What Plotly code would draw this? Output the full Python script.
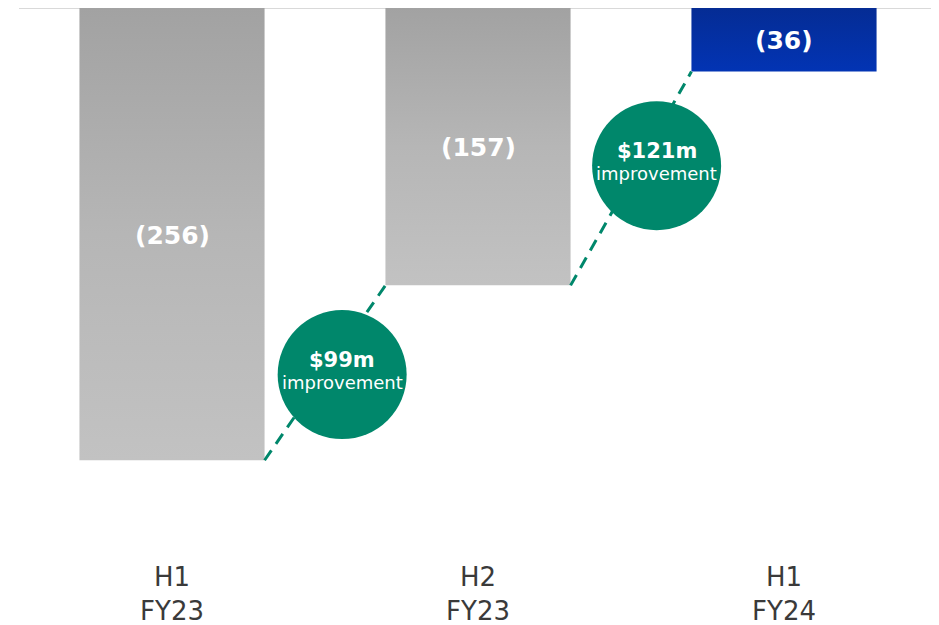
import plotly.graph_objects as go

# ---- data ----
categories = ["H1<br>FY23", "H2<br>FY23", "H1<br>FY24"]
values = [-256, -157, -36]
bar_labels = ["(256)", "(157)", "(36)"]
improvements = ["$99m", "$121m"]

# ---- style / layout constants ----
BAR_W = 0.605
GRAY_SCALE = [[0, "#c2c2c2"], [0.5, "#b6b6b6"], [1, "#a2a2a2"]]
BLUE_SCALE = [[0, "#0234b4"], [1, "#052c94"]]
GREEN = "#00876b"
CIRCLE_T = [0.49, 0.56]
CIRCLE_DX = 0.06
FONT = "DejaVu Sans"

fig = go.Figure()

# bars as filled polygons (vertical gradient)
for i, v in enumerate(values):
    x0, x1 = i - BAR_W / 2, i + BAR_W / 2
    scale = BLUE_SCALE if i == len(values) - 1 else GRAY_SCALE
    fig.add_trace(go.Scatter(
        x=[x0, x0, x1, x1, x0], y=[0, v, v, 0, 0],
        mode="lines", fill="toself", line=dict(width=0),
        fillgradient=dict(type="vertical", colorscale=scale),
        hoverinfo="skip", showlegend=False))

annotations = []
# bar value labels
for i, (v, t) in enumerate(zip(values, bar_labels)):
    annotations.append(dict(
        x=i, y=v / 2, text=f"<b>{t}</b>", showarrow=False, yshift=-1,
        font=dict(family=FONT, size=25, color="white")))

# connector dashed lines
cx, cy = [], []
for i in range(len(values) - 1):
    xa, ya = i + BAR_W / 2, values[i]
    xb, yb = i + 1 - BAR_W / 2, values[i + 1]
    fig.add_trace(go.Scatter(
        x=[xa, xb], y=[ya, yb], mode="lines",
        line=dict(color=GREEN, width=3, dash="12px,8px"),
        hoverinfo="skip", showlegend=False))
    t = CIRCLE_T[i]
    cx.append(xa + (xb - xa) * t + CIRCLE_DX)
    cy.append(ya + (yb - ya) * t)

# improvement circles
fig.add_trace(go.Scatter(
    x=cx, y=cy, mode="markers",
    marker=dict(size=129, color=GREEN, line=dict(width=0)),
    hoverinfo="skip", showlegend=False))
for x, y, s in zip(cx, cy, improvements):
    annotations.append(dict(
        x=x, y=y, text=f"<b>{s}</b>", showarrow=False, yshift=15,
        font=dict(family=FONT, size=21, color="white")))
    annotations.append(dict(
        x=x, y=y, text="improvement", showarrow=False, yshift=-8,
        font=dict(family=FONT, size=18, color="white")))

# the page body adds an 8px margin; compensate so the plot lands where intended
fig.update_layout(
    width=931, height=617,
    margin=dict(l=11, r=2, t=0, b=87),
    paper_bgcolor="white", plot_bgcolor="white",
    font=dict(family=FONT, color="#3a3a3a"),
    annotations=annotations,
    xaxis=dict(range=[-0.5, 2.5], tickvals=list(range(len(categories))),
               ticktext=categories, showgrid=False, zeroline=False,
               showline=False, tickfont=dict(size=26, color="#3a3a3a"),
               fixedrange=True, ticklabelstandoff=21),
    yaxis=dict(range=[-300, 0], showgrid=False, showticklabels=False,
               zeroline=True, zerolinecolor="#d9d9d9", zerolinewidth=2,
               showline=False, fixedrange=True),
)

fig.write_html("out.html")
